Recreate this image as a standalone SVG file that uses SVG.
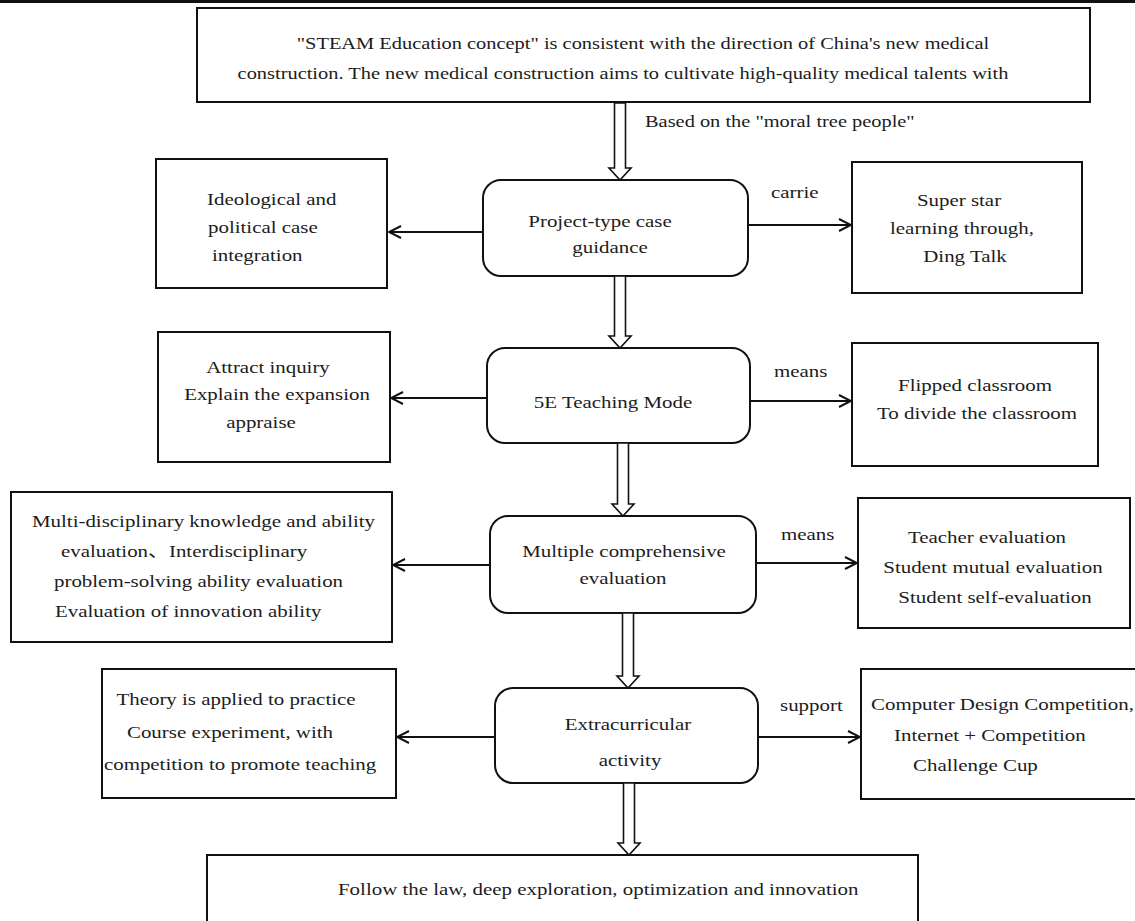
<svg xmlns="http://www.w3.org/2000/svg" width="1135" height="921" viewBox="0 0 1135 921">
<defs>
<style>
.bx{fill:#fff;stroke:#111;stroke-width:2}
.t{font-family:"Liberation Serif","Noto Sans CJK SC",serif;font-size:17px;fill:#1c1c1c}
.m{text-anchor:middle}
.ln{stroke:#111;stroke-width:2;fill:none}
.ha{fill:#fff;stroke:#111;stroke-width:1.6}
</style>
<marker id="ah" markerUnits="userSpaceOnUse" viewBox="0 0 14 14" refX="13" refY="7" markerWidth="14" markerHeight="14" orient="auto">
<path d="M1,1 L13,7 L1,13" fill="none" stroke="#111" stroke-width="2"/>
</marker>
</defs>
<rect x="0" y="0" width="1135" height="921" fill="#fff"/>
<rect x="0" y="0" width="1135" height="3" fill="#111"/>

<g id="top">
<rect class="bx" x="197" y="8" width="893" height="94"/>
<text class="t m" transform="translate(643,49) scale(1.2,1)">"STEAM Education concept" is consistent with the direction of China's new medical</text>
<text class="t m" transform="translate(623,79) scale(1.2,1)">construction. The new medical construction aims to cultivate high-quality medical talents with</text>
</g>

<g id="project">
<rect class="bx" x="483" y="180" width="265" height="96" rx="18"/>
<text class="t m" transform="translate(600,227) scale(1.23,1)">Project-type case</text>
<text class="t m" transform="translate(610,253) scale(1.23,1)">guidance</text>
</g>

<g id="ideological">
<rect class="bx" x="156" y="159" width="231" height="129"/>
<text class="t" transform="translate(207,205) scale(1.23,1)">Ideological and</text>
<text class="t" transform="translate(208,233) scale(1.23,1)">political case</text>
<text class="t" transform="translate(212,261) scale(1.23,1)">integration</text>
</g>

<g id="superstar">
<rect class="bx" x="852" y="162" width="230" height="131"/>
<text class="t m" transform="translate(959,206) scale(1.23,1)">Super star</text>
<text class="t m" transform="translate(962,234) scale(1.23,1)">learning through,</text>
<text class="t m" transform="translate(965,262) scale(1.23,1)">Ding Talk</text>
</g>

<g id="fiveE">
<rect class="bx" x="487" y="348" width="263" height="95" rx="18"/>
<text class="t m" transform="translate(613,408) scale(1.23,1)">5E Teaching Mode</text>
</g>

<g id="attract">
<rect class="bx" x="158" y="332" width="232" height="130"/>
<text class="t m" transform="translate(268,373) scale(1.23,1)">Attract inquiry</text>
<text class="t m" transform="translate(277,400) scale(1.23,1)">Explain the expansion</text>
<text class="t m" transform="translate(261,428) scale(1.23,1)">appraise</text>
</g>

<g id="flipped">
<rect class="bx" x="852" y="343" width="246" height="123"/>
<text class="t m" transform="translate(975,391) scale(1.23,1)">Flipped classroom</text>
<text class="t m" transform="translate(977,419) scale(1.23,1)">To divide the classroom</text>
</g>

<g id="multiple">
<rect class="bx" x="490" y="516" width="266" height="97" rx="18"/>
<text class="t m" transform="translate(624,557) scale(1.23,1)">Multiple comprehensive</text>
<text class="t m" transform="translate(623,584) scale(1.23,1)">evaluation</text>
</g>

<g id="multidisc">
<rect class="bx" x="11" y="492" width="381" height="150"/>
<text class="t" transform="translate(32,527) scale(1.23,1)">Multi-disciplinary knowledge and ability</text>
<text class="t" transform="translate(61,557) scale(1.23,1)">evaluation、Interdisciplinary</text>
<text class="t" transform="translate(54,587) scale(1.23,1)">problem-solving ability evaluation</text>
<text class="t" transform="translate(55,617) scale(1.23,1)">Evaluation of innovation ability</text>
</g>

<g id="teacher">
<rect class="bx" x="858" y="498" width="272" height="130"/>
<text class="t m" transform="translate(987,543) scale(1.23,1)">Teacher evaluation</text>
<text class="t m" transform="translate(993,573) scale(1.23,1)">Student mutual evaluation</text>
<text class="t m" transform="translate(995,603) scale(1.23,1)">Student self-evaluation</text>
</g>

<g id="extra">
<rect class="bx" x="495" y="688" width="263" height="95" rx="18"/>
<text class="t m" transform="translate(628,730) scale(1.23,1)">Extracurricular</text>
<text class="t m" transform="translate(630,766) scale(1.23,1)">activity</text>
</g>

<g id="theory">
<rect class="bx" x="102" y="669" width="294" height="129"/>
<text class="t m" transform="translate(236,705) scale(1.23,1)">Theory is applied to practice</text>
<text class="t m" transform="translate(230,738) scale(1.23,1)">Course experiment, with</text>
<text class="t m" transform="translate(240,770) scale(1.23,1)">competition to promote teaching</text>
</g>

<g id="computer">
<rect class="bx" x="861" y="669" width="290" height="130"/>
<text class="t" transform="translate(871,710) scale(1.23,1)">Computer Design Competition,</text>
<text class="t" transform="translate(894,741) scale(1.23,1)">Internet + Competition</text>
<text class="t" transform="translate(913,771) scale(1.23,1)">Challenge Cup</text>
</g>

<g id="bottom">
<rect class="bx" x="207" y="855" width="711" height="90"/>
<text class="t" transform="translate(338,895) scale(1.23,1)">Follow the law, deep exploration, optimization and innovation</text>
</g>

<g id="connectors">
<polygon class="ha" points="614.5,103 625.5,103 625.5,168 631,168 620,180 609,168 614.5,168"/>
<polygon class="ha" points="614.5,276 625.5,276 625.5,336 631,336 620,348 609,336 614.5,336"/>
<polygon class="ha" points="617.5,443 628.5,443 628.5,504 634,504 623,516 612,504 617.5,504"/>
<polygon class="ha" points="622.5,613 633.5,613 633.5,676 639,676 628,688 617,676 622.5,676"/>
<polygon class="ha" points="623.5,783 634.5,783 634.5,843 640,843 629,855 618,843 623.5,843"/>
<line class="ln" x1="483" y1="232" x2="389" y2="232" marker-end="url(#ah)"/>
<line class="ln" x1="748" y1="225" x2="851" y2="225" marker-end="url(#ah)"/>
<line class="ln" x1="487" y1="398" x2="391" y2="398" marker-end="url(#ah)"/>
<line class="ln" x1="750" y1="401" x2="851" y2="401" marker-end="url(#ah)"/>
<line class="ln" x1="490" y1="565" x2="393" y2="565" marker-end="url(#ah)"/>
<line class="ln" x1="756" y1="563" x2="857" y2="563" marker-end="url(#ah)"/>
<line class="ln" x1="495" y1="737" x2="397" y2="737" marker-end="url(#ah)"/>
<line class="ln" x1="758" y1="737" x2="860" y2="737" marker-end="url(#ah)"/>
<text class="t" transform="translate(645,127) scale(1.2,1)">Based on the "moral tree people"</text>
<text class="t" transform="translate(771,198) scale(1.23,1)">carrie</text>
<text class="t" transform="translate(774,377) scale(1.23,1)">means</text>
<text class="t" transform="translate(781,540) scale(1.23,1)">means</text>
<text class="t" transform="translate(780,711) scale(1.23,1)">support</text>
</g>
</svg>
